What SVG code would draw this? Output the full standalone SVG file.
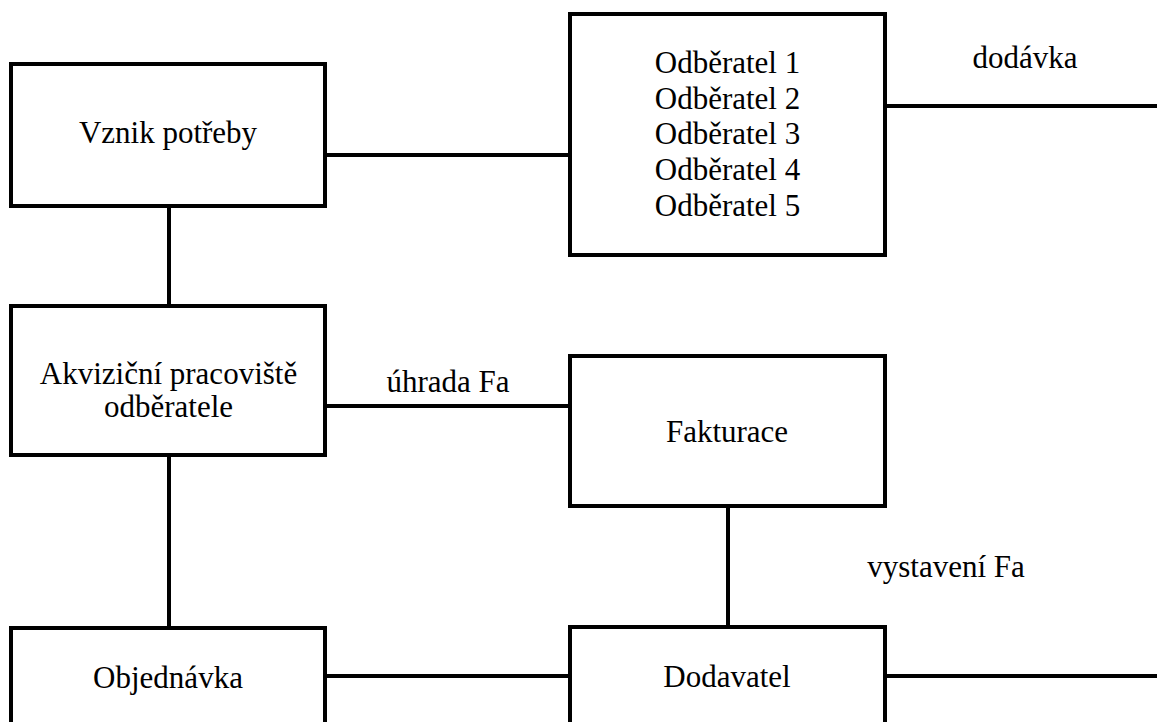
<svg xmlns="http://www.w3.org/2000/svg" width="1157" height="722" viewBox="0 0 1157 722">
<style>
.box{fill:#fff;stroke:#000;stroke-width:4}
.ln{stroke:#000;stroke-width:4;fill:none}
text{font-family:"Liberation Serif","Times New Roman",serif;font-size:31px;fill:#000;text-anchor:middle}
</style>
<rect width="1157" height="722" fill="#fff"/>
<g id="connectors">
<line class="ln" x1="325" y1="155" x2="570" y2="155"/>
<line class="ln" x1="885" y1="106" x2="1157" y2="106"/>
<line class="ln" x1="169" y1="206" x2="169" y2="306"/>
<line class="ln" x1="325" y1="406" x2="570" y2="406"/>
<line class="ln" x1="169" y1="455" x2="169" y2="628"/>
<line class="ln" x1="728" y1="506" x2="728" y2="627"/>
<line class="ln" x1="325" y1="676" x2="570" y2="676"/>
<line class="ln" x1="885" y1="676" x2="1157" y2="676"/>
<text x="1025" y="68">dodávka</text>
<text x="448" y="392">úhrada Fa</text>
<text x="946" y="577">vystavení Fa</text>
</g>
<g id="vznik">
<rect class="box" x="11" y="64" width="314" height="142"/>
<text x="168" y="143">Vznik potřeby</text>
</g>
<g id="odberatele">
<rect class="box" x="570" y="14" width="315" height="241"/>
<text x="727.5" y="73">Odběratel 1</text>
<text x="727.5" y="108.5">Odběratel 2</text>
<text x="727.5" y="144">Odběratel 3</text>
<text x="727.5" y="180">Odběratel 4</text>
<text x="727.5" y="215.5">Odběratel 5</text>
</g>
<g id="akvizicni">
<rect class="box" x="11" y="306" width="314" height="149"/>
<text x="168.5" y="384">Akviziční pracoviště</text>
<text x="168.5" y="417">odběratele</text>
</g>
<g id="fakturace">
<rect class="box" x="570" y="356" width="315" height="150"/>
<text x="727" y="442">Fakturace</text>
</g>
<g id="objednavka">
<rect class="box" x="11" y="628" width="314" height="130"/>
<text x="168" y="688">Objednávka</text>
</g>
<g id="dodavatel">
<rect class="box" x="570" y="627" width="315" height="130"/>
<text x="727" y="687">Dodavatel</text>
</g>
</svg>
